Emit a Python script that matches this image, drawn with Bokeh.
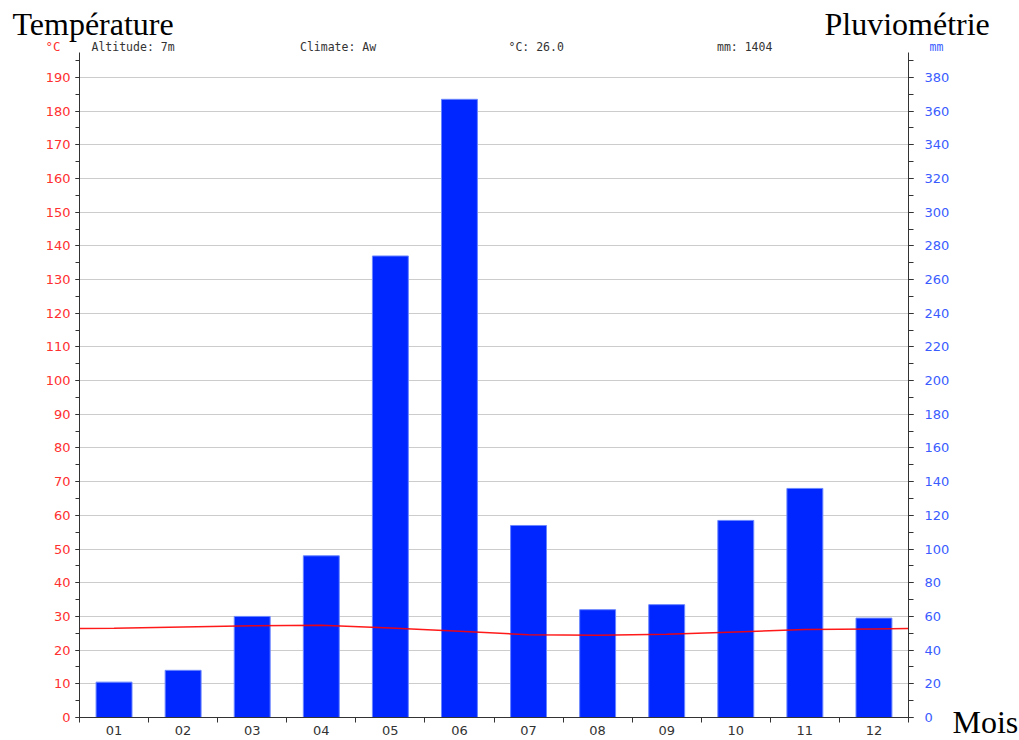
from bokeh.plotting import figure
from bokeh.layouts import column, row
from bokeh.models import Range1d, LinearAxis, FixedTicker, SingleIntervalTicker, Label, ColumnDataSource
from bokeh.embed import file_html
from bokeh.resources import INLINE

# ---- data ----
months = ["01", "02", "03", "04", "05", "06", "07", "08", "09", "10", "11", "12"]
temperature = [26.5, 26.9, 27.2, 27.4, 26.6, 25.6, 24.6, 24.4, 24.7, 25.4, 26.1, 26.3]
precipitation = [21, 28, 60, 96, 274, 367, 114, 64, 67, 117, 136, 59]
header_texts = ["Altitude: 7m", "Climate: Aw", "°C: 26.0", "mm: 1404"]

month_pos = list(range(1, len(months) + 1))
edge_temp = (temperature[0] + temperature[-1]) / 2.0

TEMP_TOP = 197.4
RED = "#ff3030"
BLUE = "#3a5cff"
AXIS = "#333333"

# layout geometry (pixels)
TOTAL_W, TOTAL_H = 1019, 740
HEAD_H = 52
LEFT_B, RIGHT_B, BOTTOM_B = 79, 39, 23
FRAME_W = 834
MAIN_W = LEFT_B + FRAME_W + RIGHT_B
MAIN_H = TOTAL_H - HEAD_H
SIDE_W = TOTAL_W - MAIN_W

# ---- main chart ----
p = figure(width=MAIN_W, height=MAIN_H,
           x_range=Range1d(0.5, len(months) + 0.5), y_range=Range1d(0, TEMP_TOP),
           output_backend="svg", toolbar_location=None,
           min_border_left=LEFT_B, min_border_top=0, min_border_right=RIGHT_B, min_border_bottom=BOTTOM_B)
p.extra_y_ranges = {"mm": Range1d(0, TEMP_TOP * 2)}
p.outline_line_color = None
p.background_fill_color = "white"
p.border_fill_color = "white"
p.xgrid.visible = False

xt = FixedTicker(ticks=month_pos, minor_ticks=[m - 0.5 for m in month_pos] + [month_pos[-1] + 0.5])
p.xaxis.ticker = xt
p.xaxis.major_label_overrides = {m: lab for m, lab in zip(month_pos, months)}
p.xaxis.major_tick_out = 0
p.xaxis.major_tick_in = 0
p.xaxis.minor_tick_out = 5
p.xaxis.minor_tick_in = 0
p.xaxis.minor_tick_line_color = AXIS
p.xaxis.axis_line_color = AXIS
p.xaxis.major_label_text_font = "DejaVu Sans"
p.xaxis.major_label_text_font_size = "13px"
p.xaxis.major_label_text_color = "#333333"
p.xaxis.major_label_standoff = 3

yt = SingleIntervalTicker(interval=10, num_minor_ticks=2)
p.yaxis.ticker = yt
p.ygrid.ticker = yt
p.ygrid.grid_line_color = "#cccccc"
p.ygrid.grid_line_width = 1
p.yaxis.axis_line_color = AXIS
p.yaxis.major_tick_line_color = AXIS
p.yaxis.minor_tick_line_color = AXIS
p.yaxis.major_tick_out = 4
p.yaxis.major_tick_in = 0
p.yaxis.minor_tick_out = 4
p.yaxis.minor_tick_in = 0
p.yaxis.major_label_text_font = "DejaVu Sans"
p.yaxis.major_label_text_font_size = "13px"
p.yaxis.major_label_text_color = RED
p.yaxis.major_label_standoff = 5

right = LinearAxis(y_range_name="mm", ticker=SingleIntervalTicker(interval=20, num_minor_ticks=2))
right.axis_line_color = AXIS
right.major_tick_line_color = AXIS
right.minor_tick_line_color = AXIS
right.major_tick_out = 5
right.major_tick_in = 0
right.minor_tick_out = 5
right.minor_tick_in = 0
right.major_label_text_font = "DejaVu Sans"
right.major_label_text_font_size = "13px"
right.major_label_text_color = BLUE
right.major_label_standoff = 11
p.add_layout(right, "right")

src = ColumnDataSource(dict(x=month_pos, mm=precipitation))
p.vbar(x="x", top="mm", width=0.52, source=src, y_range_name="mm",
       fill_color="#0026ff", line_color="#6a86ff", line_width=1)

line_x = [0.5] + month_pos + [len(months) + 0.5]
line_y = [edge_temp] + temperature + [edge_temp]
p.line(line_x, line_y, line_color="#ff0000", line_width=1.5, line_alpha=0.9)


def text_panel(w, h, bg="white"):
    f = figure(width=w, height=h, x_range=Range1d(0, w), y_range=Range1d(h, 0),
               x_axis_type=None, y_axis_type=None, output_backend="svg", toolbar_location=None,
               min_border=0, min_border_left=0, min_border_right=0, min_border_top=0, min_border_bottom=0,
               align="start")
    f.outline_line_color = None
    f.grid.visible = False
    f.background_fill_color = bg
    f.border_fill_color = bg
    return f


def add_label(f, x, y, text, font, size, color, baseline="middle"):
    f.add_layout(Label(x=x, y=y, x_units="data", y_units="data", text=text,
                       text_font=font, text_font_size=size, text_color=color,
                       text_align="left", text_baseline=baseline))


# ---- header ----
head = text_panel(TOTAL_W, HEAD_H)
add_label(head, 12, 23, "Température", "Liberation Serif", "32px", "black")
add_label(head, 824, 23, "Pluviométrie", "Liberation Serif", "32px", "black")
add_label(head, 45, 45.5, "°C", "DejaVu Sans Mono", "12.5px", RED)
add_label(head, LEFT_B + FRAME_W + 16, 46, "mm", "DejaVu Sans Mono", "11.5px", BLUE)
step = FRAME_W / len(header_texts)
for i, t in enumerate(header_texts):
    add_label(head, LEFT_B + 12 + step * i, 46, t, "DejaVu Sans Mono", "11.5px", "#333333")

# ---- right side ("Mois"), wrapped so its frame is not aligned with the chart frame ----
side = text_panel(SIDE_W, MAIN_H)
add_label(side, 0, MAIN_H - 19, "Mois", "Liberation Serif", "32px", "black")

layout = column(head, row(p, column(side, spacing=0), spacing=0, align="start"), spacing=0)
open("out.html", "w").write(file_html(layout, INLINE))
